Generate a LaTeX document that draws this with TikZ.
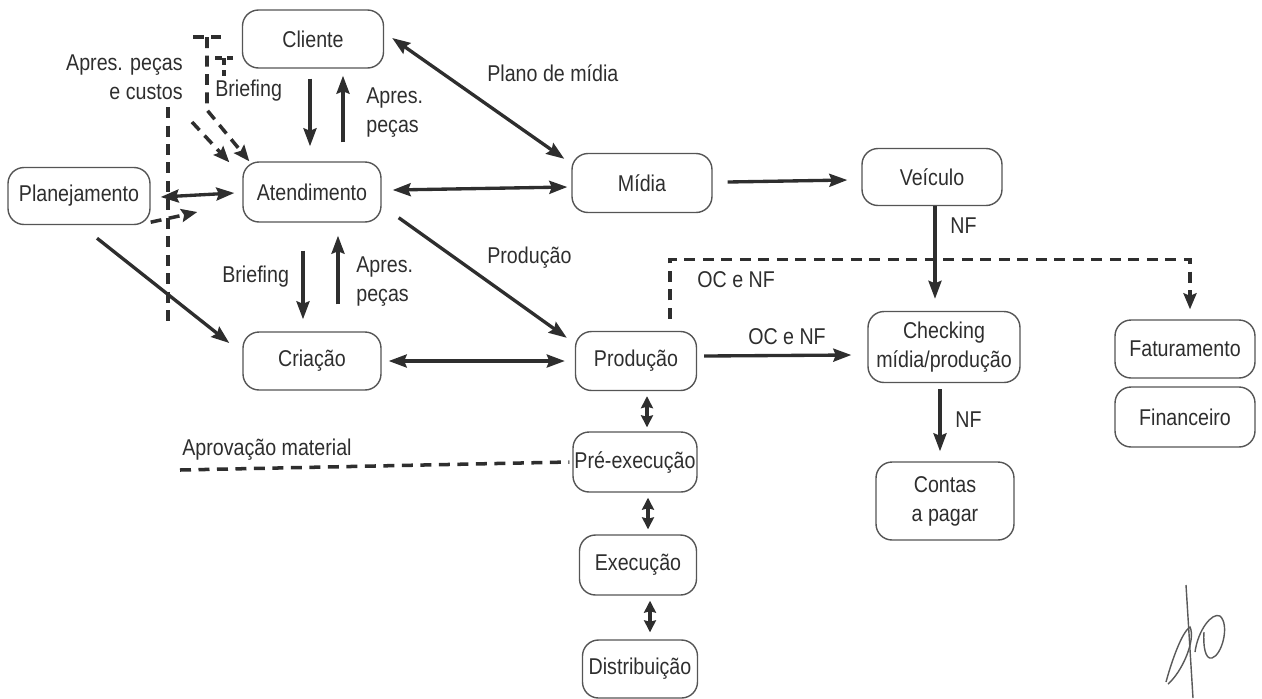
\documentclass[tikz,border=0pt]{standalone}
\usepackage{fontspec}
\setmainfont[FakeStretch=0.86]{Liberation Sans}
\usetikzlibrary{arrows.meta,calc}
\definecolor{ink}{HTML}{2E2E2E}
\definecolor{boxline}{HTML}{555555}
\begin{document}
\begin{tikzpicture}[x=0.02cm,y=-0.02cm,
  font=\fontsize{13}{16.5}\selectfont, text=ink,
  box/.style={draw=boxline, line width=0.8pt, rounded corners=0.32cm, inner sep=0pt, align=center},
  lab/.style={inner sep=0pt},
  arr/.style={draw=ink, line width=1.9pt, -{Stealth[length=0.36cm,width=0.26cm,inset=0.05cm]}},
  dbl/.style={draw=ink, line width=1.9pt, {Stealth[length=0.36cm,width=0.26cm,inset=0.05cm]}-{Stealth[length=0.36cm,width=0.26cm,inset=0.05cm]}},
  sdbl/.style={draw=ink, line width=1.9pt, {Stealth[length=0.24cm,width=0.24cm,inset=0.03cm]}-{Stealth[length=0.24cm,width=0.24cm,inset=0.03cm]}},
  dsh/.style={draw=ink, line width=2pt, dash pattern=on 0.22cm off 0.15cm},
  dsharr/.style={dsh, -{Stealth[length=0.32cm,width=0.26cm,inset=0.05cm]}}]
\useasboundingbox (0,0) rectangle (1262,698);

% nodes
\node[box, minimum width=2.82cm, minimum height=1.16cm] (cli) at (313,39) {Cliente};
\node[box, minimum width=2.76cm, minimum height=1.2cm] (ate) at (312,192) {Atendimento};
\node[box, minimum width=2.84cm, minimum height=1.14cm] (pla) at (79,196) {Planejamento};
\node[box, minimum width=2.76cm, minimum height=1.16cm] (cri) at (312,361) {Criação};
\node[box, minimum width=2.8cm, minimum height=1.18cm] (mid) at (642,183) {Mídia};
\node[box, minimum width=2.8cm, minimum height=1.14cm] (vei) at (932,177) {Veículo};
\node[box, minimum width=2.42cm, minimum height=1.18cm] (pro) at (636,361) {Produção};
\node[box, minimum width=3.04cm, minimum height=1.42cm] (chk) at (944,347) {Checking\\mídia/produção};
\node[box, minimum width=2.8cm, minimum height=1.16cm] (fat) at (1185,349) {Faturamento};
\node[box, minimum width=2.8cm, minimum height=1.2cm] (fin) at (1185,417) {Financeiro};
\node[box, minimum width=2.48cm, minimum height=1.2cm] (pre) at (635,462) {Pré-execução};
\node[box, minimum width=2.76cm, minimum height=1.56cm] (con) at (945,501) {Contas\\a pagar};
\node[box, minimum width=2.34cm, minimum height=1.2cm] (exe) at (638,565) {Execução};
\node[box, minimum width=2.3cm, minimum height=1.16cm] (dis) at (640,669) {Distribuição};

% labels
\node[lab, align=right, anchor=east] (lapc) at (183,77) {Apres. peças\\e custos};
\node[lab, anchor=west] (lbr1) at (215,91) {Briefing};
\node[lab, align=left, anchor=west] (lap1) at (366,113) {Apres.\\peças};
\node[lab, anchor=west] (lbr2) at (222,277) {Briefing};
\node[lab, align=left, anchor=west] (lap2) at (356,282) {Apres.\\peças};
\node[lab, anchor=west] (lpm) at (487,73) {Plano de mídia};
\node[lab, anchor=west] (lpr) at (487,258) {Produção};
\node[lab, anchor=west] (loc1) at (697,280) {OC e NF};
\node[lab, anchor=west] (lnf1) at (950,226) {NF};
\node[lab] (loc2) at (787,337) {OC e NF};
\node[lab, anchor=west] (lnf2) at (955,420) {NF};
\node[lab, anchor=west] (lapm) at (182,450) {Aprovação material};

% solid connectors
\draw[arr] ([shift={(-3,10)}]cli.south) -- ([shift={(-2,-15)}]ate.north);
\draw[arr] ([shift={(31,-19)}]ate.north) -- ([shift={(30,7)}]cli.south);
\draw[arr] ([shift={(-9,28)}]ate.south) -- ([shift={(-9,-12)}]cri.north);
\draw[arr] ([shift={(26,-27)}]cri.north) -- ([shift={(26,13)}]ate.south);
\draw[dbl] ([shift={(10,1)}]pla.east) -- ([shift={(-8,1)}]ate.west);
\draw[arr] ([shift={(18,13)}]pla.south) -- ([shift={(-13,-18)}]cri.west);
\draw[dbl] ([shift={(8,-1)}]cli.east) -- ([shift={(-7,6)}]mid.north west);
\draw[dbl] ([shift={(11,-2)}]ate.east) -- ([shift={(-4,4)}]mid.west);
\draw[arr] ([shift={(17,-5)}]ate.south east) -- ([shift={(-8,7)}]pro.north west);
\draw[dbl] ([shift={(7,0)}]cri.east) -- ([shift={(-10,0)}]pro.west);
\draw[arr] ([shift={(15,-1)}]mid.east) -- ([shift={(-14,3)}]vei.west);
\draw[arr] ([shift={(3,0)}]vei.south) -- ([shift={(-9,-12)}]chk.north);
\draw[arr] ([shift={(7,-5)}]pro.east) -- ([shift={(-16,8)}]chk.west);
\draw[arr] ([shift={(-4,6)}]chk.south) -- ([shift={(-5,-10)}]con.north);
\draw[sdbl] ([shift={(11,5)}]pro.south) -- ([shift={(12,-4)}]pre.north);
\draw[sdbl] ([shift={(13,5)}]pre.south) -- ([shift={(10,-5)}]exe.north);
\draw[sdbl] ([shift={(12,5)}]exe.south) -- ([shift={(10,-7)}]dis.north);

% dashed connectors
\draw[dsharr] ([shift={(34,-12)}]pro.north) |- ([shift={(5,-60)}]fat.north) -- ([shift={(5,-10)}]fat.north);
\coordinate (apr) at (180,470);
\draw[dsh] (apr) -- ([shift={(-3,0)}]pre.west);

\coordinate (t1a) at (193,37);
\coordinate (t1b) at (221,37);
\coordinate (t1c) at (207,37);
\coordinate (t1d) at (207,110);
\draw[dsh] (t1a) -- (t1b);
\draw[dsharr] (t1c) -- (t1d) -- ([shift={(7,0)}]ate.north west);
\coordinate (t2a) at (215,58);
\coordinate (t2b) at (233,58);
\coordinate (t2c) at (224,58);
\coordinate (t2d) at (224,76);
\draw[draw=ink, line width=1.8pt, dash pattern=on 0.14cm off 0.1cm] (t2a) -- (t2b);
\draw[draw=ink, line width=1.8pt, dash pattern=on 0.14cm off 0.1cm] (t2c) -- (t2d);
\coordinate (d2) at (192,122);
\draw[dsharr] (d2) -- ([shift={(-13,1)}]ate.north west);
\coordinate (v1) at (168,107);
\coordinate (v2) at (168,325);
\draw[dsh] (v1) -- (v2);
\draw[dsharr] ([shift={(0,-3)}]pla.south east) -- ([shift={(-45,20)}]ate.west);

% signature
\begin{scope}[draw=black!65, line width=0.8pt]
\draw (1186,585) -- (1193,698);
\draw (1166,682) .. controls (1172,660) and (1182,632) .. (1190,627) .. controls (1196,640) and (1182,672) .. (1168,684);
\draw (1195,652) .. controls (1198,630) and (1212,612) .. (1220,616) .. controls (1230,625) and (1222,655) .. (1212,658) .. controls (1205,660) and (1203,645) .. (1204,632);
\end{scope}
\end{tikzpicture}
\end{document}
